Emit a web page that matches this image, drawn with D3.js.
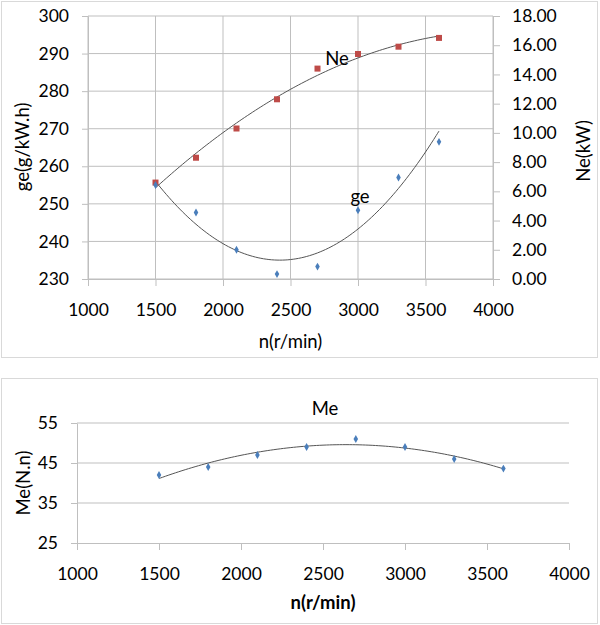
<!DOCTYPE html>
<html>
<head>
<meta charset="utf-8">
<script src="https://cdn.jsdelivr.net/npm/d3@7"></script>
<style>
  body { margin: 0; background: #fff; }
  text { font-family: Lato, "Open Sans", sans-serif; fill: #000; }
</style>
</head>
<body>
<script>
// engine speed, r/min
const speed = [1500, 1800, 2100, 2400, 2700, 3000, 3300, 3600];
// specific fuel consumption ge, g/kW.h
const geVals = [255, 247.7, 237.8, 231.3, 233.3, 248.3, 257, 266.5];
// effective power Ne, kW
const neVals = [6.6, 8.3, 10.3, 12.3, 14.4, 15.4, 15.9, 16.5];
// torque Me
const meVals = [42, 44, 47, 49, 51, 49, 46, 43.6];

const xTicks = [1000, 1500, 2000, 2500, 3000, 3500, 4000];
const geTicks = [230, 240, 250, 260, 270, 280, 290, 300];
const neTicks = [0, 2, 4, 6, 8, 10, 12, 14, 16, 18];
const meTicks = [25, 35, 45, 55];

const W = 600, H = 625;
const grid = '#bfbfbf', trend = '#555', blue = '#4a7ebb', red = '#be4b48';
const tickFont = '17.5px', titleFont = '18.5px';

// least squares polynomial fit, like the excel trendline
function polyfit(xs, ys, order) {
  const m = order + 1, A = [], b = [];
  for (let i = 0; i < m; i++) {
    A.push(new Array(m).fill(0)); b.push(0);
  }
  xs.forEach((x0, k) => {
    const x = x0 / 1000;
    for (let i = 0; i < m; i++) {
      b[i] += ys[k] * Math.pow(x, i);
      for (let j = 0; j < m; j++) A[i][j] += Math.pow(x, i + j);
    }
  });
  for (let i = 0; i < m; i++) {
    for (let r = i + 1; r < m; r++) {
      const f = A[r][i] / A[i][i];
      for (let c = i; c < m; c++) A[r][c] -= f * A[i][c];
      b[r] -= f * b[i];
    }
  }
  const c = new Array(m).fill(0);
  for (let i = m - 1; i >= 0; i--) {
    let s = b[i];
    for (let j = i + 1; j < m; j++) s -= A[i][j] * c[j];
    c[i] = s / A[i][i];
  }
  return x => c.reduce((s, ci, i) => s + ci * Math.pow(x / 1000, i), 0);
}

function trendPts(ys) {
  const f = polyfit(speed, ys, 2), pts = [];
  for (let n = speed[0]; n <= speed[speed.length - 1]; n += 20) pts.push([n, f(n)]);
  return pts;
}

const svg = d3.select('body').append('svg')
  .attr('width', W).attr('height', H)
  .style('background-color', 'white');

function styleAxis(g) {
  g.select('.domain').attr('stroke', grid);
  g.selectAll('.tick line').attr('stroke', grid);
  g.selectAll('.tick text').style('font-size', tickFont).attr('fill', '#000');
}

function diamonds(g, data, x, y, color) {
  g.selectAll(null).data(data).enter().append('path')
    .attr('d', d3.symbol(d3.symbolDiamond, 18))
    .attr('transform', d => `translate(${x(d[0])},${y(d[1])})`)
    .attr('fill', color);
}

// ---------- top chart ----------
svg.append('rect').attr('x', 1.5).attr('y', 1.5).attr('width', 596).attr('height', 356)
  .attr('fill', 'none').attr('stroke', '#d9d9d9');

const t = {left: 88, right: 493, top: 16, bottom: 279};
const x1 = d3.scaleLinear().domain([1000, 4000]).range([t.left, t.right]);
const yGe = d3.scaleLinear().domain([230, 300]).range([t.bottom, t.top]);
const yNe = d3.scaleLinear().domain([0, 18]).range([t.bottom, t.top]);

const topG = svg.append('g');
topG.append('g').selectAll('line').data(geTicks).enter().append('line')
  .attr('x1', t.left).attr('x2', t.right)
  .attr('y1', d => yGe(d)).attr('y2', d => yGe(d)).attr('stroke', grid);
topG.append('g').selectAll('line').data(xTicks).enter().append('line')
  .attr('y1', t.top).attr('y2', t.bottom)
  .attr('x1', d => x1(d)).attr('x2', d => x1(d)).attr('stroke', grid);

topG.append('g').attr('transform', `translate(0,${t.bottom})`)
  .call(d3.axisBottom(x1).tickValues(xTicks).tickFormat(d3.format('d'))
    .tickSize(7).tickPadding(18).tickSizeOuter(0))
  .call(styleAxis);
topG.append('g').attr('transform', `translate(${t.left},0)`)
  .call(d3.axisLeft(yGe).tickValues(geTicks).tickSize(6).tickPadding(13).tickSizeOuter(0))
  .call(styleAxis);
topG.append('g').attr('transform', `translate(${t.right},0)`)
  .call(d3.axisRight(yNe).tickValues(neTicks).tickFormat(d3.format('.2f'))
    .tickSize(7).tickPadding(12).tickSizeOuter(0))
  .call(styleAxis);

const lineGe = d3.line().x(d => x1(d[0])).y(d => yGe(d[1])).curve(d3.curveBasis);
const lineNe = d3.line().x(d => x1(d[0])).y(d => yNe(d[1])).curve(d3.curveBasis);
topG.append('path').attr('d', lineNe(trendPts(neVals)))
  .attr('fill', 'none').attr('stroke', trend).attr('stroke-width', 1);
topG.append('path').attr('d', lineGe(trendPts(geVals)))
  .attr('fill', 'none').attr('stroke', trend).attr('stroke-width', 1);

topG.append('g').selectAll('rect').data(d3.zip(speed, neVals)).enter().append('rect')
  .attr('x', d => x1(d[0]) - 3).attr('y', d => yNe(d[1]) - 3)
  .attr('width', 6).attr('height', 6).attr('fill', red);
diamonds(topG.append('g'), d3.zip(speed, geVals), x1, yGe, blue);

topG.append('text').attr('x', 337).attr('y', 65).attr('text-anchor', 'middle')
  .style('font-size', titleFont).text('Ne');
topG.append('text').attr('x', 360).attr('y', 203).attr('text-anchor', 'middle')
  .style('font-size', titleFont).text('ge');

topG.append('text').attr('x', (t.left + t.right) / 2).attr('y', 348).attr('text-anchor', 'middle')
  .style('font-size', titleFont).text('n(r/min)');
topG.append('text').attr('transform', `translate(29,147) rotate(-90)`)
  .attr('text-anchor', 'middle').style('font-size', titleFont).text('ge(g/kW.h)');
topG.append('text').attr('transform', `translate(590,151) rotate(-90)`)
  .attr('text-anchor', 'middle').style('font-size', titleFont).text('Ne(kW)');

// ---------- bottom chart ----------
svg.append('rect').attr('x', 1.5).attr('y', 378.5).attr('width', 596).attr('height', 245)
  .attr('fill', 'none').attr('stroke', '#d9d9d9');

const b = {left: 77, right: 569, top: 423, bottom: 543};
const x2 = d3.scaleLinear().domain([1000, 4000]).range([b.left, b.right]);
const yMe = d3.scaleLinear().domain([25, 55]).range([b.bottom, b.top]);

const botG = svg.append('g');
botG.append('g').selectAll('line').data(meTicks.slice(1)).enter().append('line')
  .attr('x1', b.left).attr('x2', b.right)
  .attr('y1', d => yMe(d)).attr('y2', d => yMe(d)).attr('stroke', grid);

botG.append('g').attr('transform', `translate(0,${b.bottom})`)
  .call(d3.axisBottom(x2).tickValues(xTicks).tickFormat(d3.format('d'))
    .tickSize(7).tickPadding(18).tickSizeOuter(0))
  .call(styleAxis);
botG.append('g').attr('transform', `translate(${b.left},0)`)
  .call(d3.axisLeft(yMe).tickValues(meTicks).tickSize(6).tickPadding(13).tickSizeOuter(0))
  .call(styleAxis);

const lineMe = d3.line().x(d => x2(d[0])).y(d => yMe(d[1])).curve(d3.curveBasis);
botG.append('path').attr('d', lineMe(trendPts(meVals)))
  .attr('fill', 'none').attr('stroke', trend).attr('stroke-width', 1);
diamonds(botG.append('g'), d3.zip(speed, meVals), x2, yMe, blue);

botG.append('text').attr('x', 325).attr('y', 415).attr('text-anchor', 'middle')
  .style('font-size', titleFont).text('Me');
botG.append('text').attr('x', (b.left + b.right) / 2).attr('y', 609).attr('text-anchor', 'middle')
  .style('font-size', titleFont).style('font-weight', 'bold').text('n(r/min)');
botG.append('text').attr('transform', `translate(30,${(b.top + b.bottom) / 2}) rotate(-90)`)
  .attr('text-anchor', 'middle').style('font-size', titleFont).text('Me(N.n)');
</script>
</body>
</html>
